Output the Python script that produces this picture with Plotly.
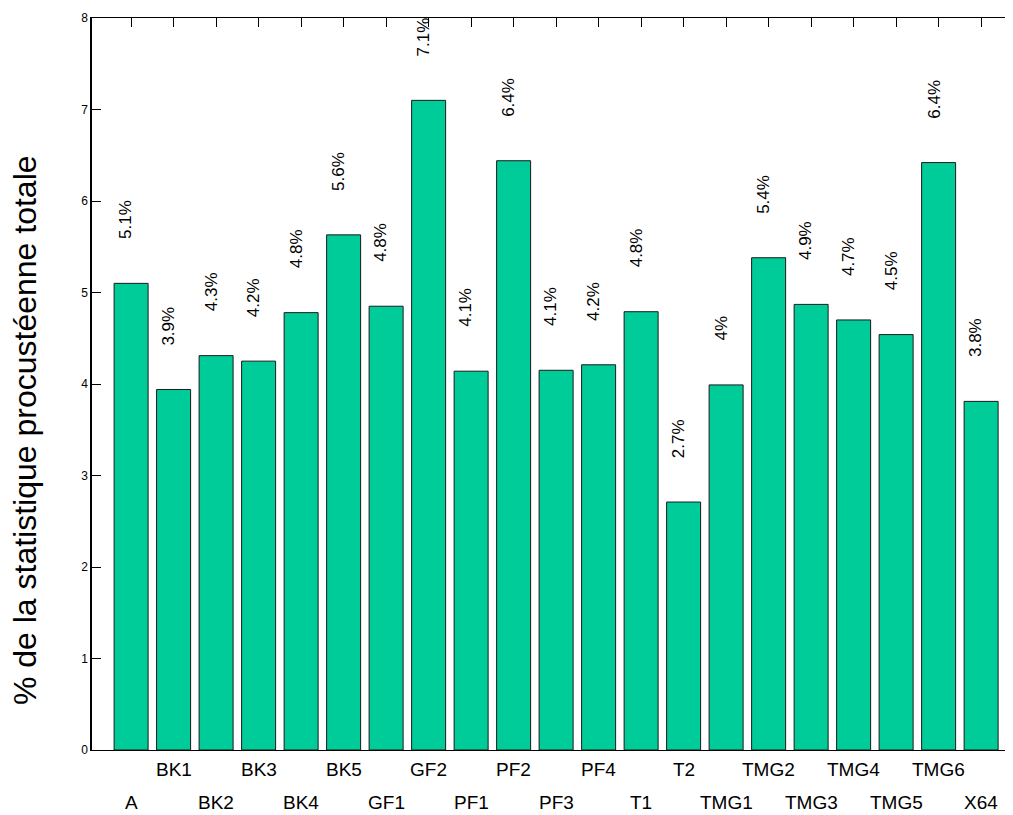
import plotly.graph_objects as go

# ── Data ──────────────────────────────────────────────────────────────────────
categories = ["A", "BK1", "BK2", "BK3", "BK4", "BK5", "GF1", "GF2", "PF1", "PF2",
              "PF3", "PF4", "T1", "T2", "TMG1", "TMG2", "TMG3", "TMG4", "TMG5",
              "TMG6", "X64"]
values = [5.10, 3.94, 4.31, 4.25, 4.78, 5.63, 4.85, 7.10, 4.14, 6.44,
          4.15, 4.21, 4.79, 2.71, 3.99, 5.38, 4.87, 4.70, 4.54, 6.42, 3.81]
value_labels = ["5.1%", "3.9%", "4.3%", "4.2%", "4.8%", "5.6%", "4.8%", "7.1%",
                "4.1%", "6.4%", "4.1%", "4.2%", "4.8%", "2.7%", "4%", "5.4%",
                "4.9%", "4.7%", "4.5%", "6.4%", "3.8%"]
y_ticks = [0, 1, 2, 3, 4, 5, 6, 7, 8]
y_title = "% de la statistique procustéenne totale"

_BAR_COLOR = "#00CC99"
_FONT = "Arial, Liberation Sans, Helvetica, sans-serif"

idx = list(range(len(categories)))

fig = go.Figure()

fig.add_trace(go.Bar(
    x=idx,
    y=values,
    width=0.8,
    marker=dict(color=_BAR_COLOR, line=dict(color="#1a1a1a", width=1)),
    showlegend=False,
    hoverinfo="skip",
))

annotations = []

# value labels, rotated, floating above each bar
for i, (v, lab) in enumerate(zip(values, value_labels)):
    annotations.append(dict(
        x=i, y=v, xref="x", yref="y",
        text=lab, textangle=-90, showarrow=False,
        xanchor="center", yanchor="bottom",
        xshift=-5, yshift=42,
        font=dict(size=17, color="#000000", family=_FONT),
    ))

# category labels, staggered in two rows
for i, cat in enumerate(categories):
    annotations.append(dict(
        x=i, y=0, xref="x", yref="paper",
        text=cat, showarrow=False,
        xanchor="center", yanchor="middle",
        yshift=-19.5 if i % 2 == 1 else -52,
        font=dict(size=19, color="#000000", family=_FONT),
    ))

# y-axis title (sits a bit below the plot's vertical centre in the original)
annotations.append(dict(
    x=0, y=0.437, xref="paper", yref="paper",
    text=y_title, textangle=-90, showarrow=False,
    xanchor="center", yanchor="middle", xshift=-67,
    font=dict(size=32, color="#000000", family=_FONT),
))

fig.update_layout(
    width=1005,
    height=807,
    paper_bgcolor="#FFFFFF",
    plot_bgcolor="#FFFFFF",
    font=dict(family=_FONT, color="#000000"),
    margin=dict(l=84, r=0, t=10, b=65, autoexpand=False),
    annotations=annotations,
    xaxis=dict(
        range=[-0.92, 20.75],
        tickmode="array",
        tickvals=idx,
        showticklabels=False,
        ticks="inside",
        ticklen=9,
        tickcolor="#000000",
        showline=True,
        linecolor="#000000",
        linewidth=1,
        mirror="ticks",
        showgrid=False,
        zeroline=False,
        layer="below traces",
    ),
    yaxis=dict(
        range=[0, 8],
        tickmode="array",
        tickvals=y_ticks,
        ticktext=[str(t) for t in y_ticks],
        ticks="inside",
        ticklen=9,
        tickcolor="#000000",
        tickfont=dict(size=12, color="#000000"),
        showline=True,
        linecolor="#000000",
        linewidth=1.5,
        showgrid=False,
        zeroline=False,
    ),
)

fig.write_html("out.html")
